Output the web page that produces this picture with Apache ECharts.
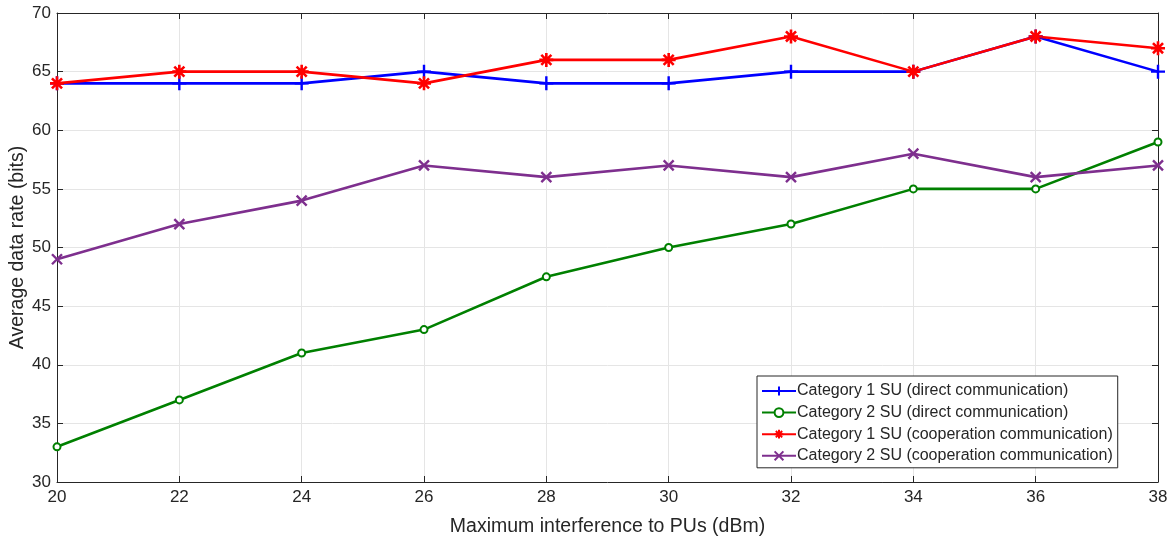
<!DOCTYPE html>
<html>
<head>
<meta charset="utf-8">
<script src="https://cdn.jsdelivr.net/npm/echarts@6/dist/echarts.min.js"></script>
<style>
  html, body { margin: 0; padding: 0; background: #fff; }
  #chart { width: 1171px; height: 541px; }
</style>
</head>
<body>
<div id="chart"></div>
<script>
// Maximum interference to PUs (dBm)
const interference = [20, 22, 24, 26, 28, 30, 32, 34, 36, 38];

// Average data rate (bits) per scheme
const cat1Direct = [64, 64, 64, 65, 64, 64, 65, 65, 68, 65];
const cat2Direct = [33, 37, 41, 43, 47.5, 50, 52, 55, 55, 59];
const cat1Coop   = [64, 65, 65, 64, 66, 66, 68, 65, 68, 67];
const cat2Coop   = [49, 52, 54, 57, 56, 57, 56, 58, 56, 57];

const seriesNames = [
  'Category 1 SU (direct communication)',
  'Category 2 SU (direct communication)',
  'Category 1 SU (cooperation communication)',
  'Category 2 SU (cooperation communication)'
];

const pair = ys => interference.map((x, i) => [x, ys[i]]);

const TEXT = '#262626';
const FONT = '"Liberation Sans", Arial, Helvetica, sans-serif';

// marker outlines drawn as stroked paths
const PLUS = 'path://M0,-1L0,1M-1,0L1,0';
const CROSS = 'path://M-1,-1L1,1M-1,1L1,-1';
const STAR = 'path://M0,-1L0,1M-1,0L1,0M-0.72,-0.72L0.72,0.72M-0.72,0.72L0.72,-0.72';

function lineSeries(name, data, color, symbol, size, bw) {
  return {
    name: name,
    type: 'line',
    data: pair(data),
    symbol: symbol,
    symbolSize: size,
    showAllSymbol: true,
    lineStyle: { color: color, width: 2.6 },
    itemStyle: { color: color, borderColor: color, borderWidth: bw },
    emphasis: { disabled: true },
    animation: false,
    z: 3
  };
}

const chart = echarts.init(document.getElementById('chart'), null, { renderer: 'canvas' });

const axisCommon = {
  axisLine: { show: true, onZero: false, lineStyle: { color: TEXT, width: 1 } },
  axisTick: { show: true, inside: true, length: 6, lineStyle: { color: TEXT } }
};

chart.setOption({
  backgroundColor: '#ffffff',
  textStyle: { fontFamily: FONT, color: TEXT },
  grid: { left: 57, right: 13, top: 13, bottom: 59, containLabel: false, outerBoundsMode: 'none' },
  xAxis: [
    Object.assign({
      type: 'value', min: 20, max: 38, interval: 2, position: 'bottom',
      name: 'Maximum interference to PUs (dBm)', nameLocation: 'middle', nameGap: 35,
      nameMoveOverlap: false,
      nameTextStyle: { fontSize: 19.5, color: TEXT, fontFamily: FONT },
      axisLabel: { fontSize: 17, color: TEXT, fontFamily: FONT, margin: 7 },
      splitLine: { show: true, lineStyle: { color: '#e5e5e5', width: 1 } }
    }, axisCommon),
    Object.assign({
      type: 'value', min: 20, max: 38, interval: 2, position: 'top',
      axisLabel: { show: false }, splitLine: { show: false }
    }, axisCommon)
  ],
  yAxis: [
    Object.assign({
      type: 'value', min: 30, max: 70, interval: 5, position: 'left',
      name: 'Average data rate (bits)', nameLocation: 'middle', nameGap: 29, nameRotate: 90,
      nameMoveOverlap: false,
      nameTextStyle: { fontSize: 19.5, color: TEXT, fontFamily: FONT },
      axisLabel: { fontSize: 17, color: TEXT, fontFamily: FONT, margin: 6 },
      splitLine: { show: true, lineStyle: { color: '#e5e5e5', width: 1 } }
    }, axisCommon),
    Object.assign({
      type: 'value', min: 30, max: 70, interval: 5, position: 'right',
      axisLabel: { show: false }, splitLine: { show: false }
    }, axisCommon)
  ],
  legend: {
    orient: 'vertical',
    left: 757,
    top: 376,
    itemWidth: 34,
    itemHeight: 11,
    itemGap: 5.6,
    padding: [7, 5, 4, 4],
    backgroundColor: '#ffffff',
    borderColor: TEXT,
    borderWidth: 1,
    textStyle: { fontSize: 16, color: TEXT, fontFamily: FONT, padding: [0, 0, 0, -4] },
    selectedMode: false,
    data: seriesNames
  },
  series: [
    lineSeries(seriesNames[0], cat1Direct, '#0000ff', PLUS, 14, 2.4),
    lineSeries(seriesNames[1], cat2Direct, '#008000', 'emptyCircle', 7, 2.4),
    lineSeries(seriesNames[2], cat1Coop, '#ff0000', STAR, 14, 2.6),
    lineSeries(seriesNames[3], cat2Coop, '#7e2f8e', CROSS, 10, 2.4)
  ]
});
</script>
</body>
</html>
